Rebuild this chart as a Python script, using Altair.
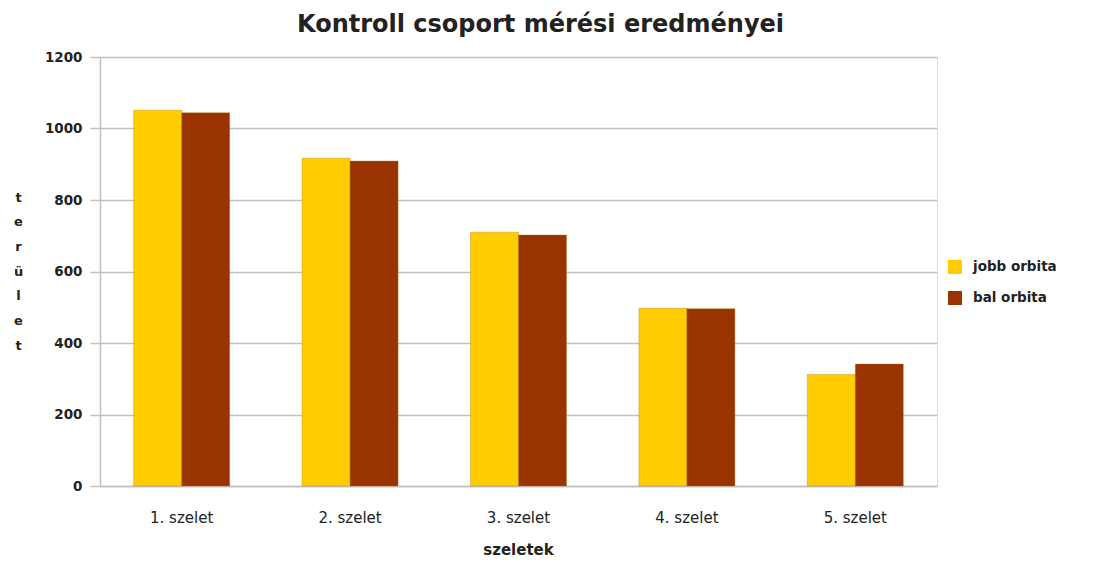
import altair as alt
import pandas as pd

categories = ["1. szelet", "2. szelet", "3. szelet", "4. szelet", "5. szelet"]
series_names = ["jobb orbita", "bal orbita"]
jobb_values = [1051, 917, 710, 497, 312]
bal_values = [1044, 909, 702, 496, 341]
y_ticks = [0, 200, 400, 600, 800, 1000, 1200]

rows = []
for c, j, b in zip(categories, jobb_values, bal_values):
    rows.append({"szelet": c, "sorozat": series_names[0], "ertek": j})
    rows.append({"szelet": c, "sorozat": series_names[1], "ertek": b})
df = pd.DataFrame(rows)

grid_color = "#c0c0c0"

chart = alt.Chart(df).mark_bar(stroke="#b07a00", strokeWidth=0.6, strokeOpacity=0.6).encode(
    x=alt.X(
        "szelet:N",
        sort=categories,
        scale=alt.Scale(paddingInner=0.43),
        axis=alt.Axis(
            title="szeletek",
            titleFont="DejaVu Sans",
            titleFontSize=15,
            titleFontWeight="bold",
            titleColor="#222222",
            titleX=418,
            titleY=63,
            titleBaseline="middle",
            titleAlign="center",
            labelAngle=0,
            labelFont="DejaVu Sans",
            labelFontSize=15,
            labelColor="#222222",
            labelPadding=24,
            ticks=False,
            domainColor=grid_color,
            domainWidth=1.5,
        ),
    ),
    xOffset=alt.XOffset("sorozat:N", sort=series_names),
    y=alt.Y(
        "ertek:Q",
        scale=alt.Scale(domain=[0, 1200], nice=False),
        axis=alt.Axis(
            values=y_ticks,
            format="d",
            title=["t", "e", "r", "ü", "l", "e", "t"],
            titleAngle=0,
            titleFont="DejaVu Sans",
            titleFontSize=13,
            titleFontWeight="bold",
            titleColor="#222222",
            titleLineHeight=24.7,
            titleX=-82,
            titleY=134,
            titleAlign="center",
            titleBaseline="top",
            labelFont="DejaVu Sans",
            labelFontSize=13.5,
            labelFontWeight="bold",
            labelColor="#222222",
            labelPadding=8,
            tickSize=10,
            tickColor=grid_color,
            tickWidth=1.5,
            gridColor=grid_color,
            gridWidth=1.5,
            domainColor=grid_color,
            domainWidth=1.5,
        ),
    ),
    color=alt.Color(
        "sorozat:N",
        sort=series_names,
        scale=alt.Scale(domain=series_names, range=["#FFCC00", "#993300"]),
        legend=alt.Legend(
            title=None,
            orient="none",
            legendX=848,
            legendY=203,
            symbolType="square",
            symbolSize=196,
            symbolStrokeWidth=0,
            labelFont="DejaVu Sans",
            labelFontSize=13.5,
            labelFontWeight="bold",
            labelColor="#222222",
            labelOffset=11,
            rowPadding=17,
            padding=0,
        ),
    ),
).properties(
    width=837,
    height=429,
    title=alt.TitleParams(
        "Kontroll csoport mérési eredményei",
        font="DejaVu Sans",
        fontSize=24,
        fontWeight="bold",
        color="#222222",
        anchor="middle",
        dx=22,
        offset=13,
    ),
    autosize=alt.AutoSizeParams(type="none"),
    padding={"left": 92, "top": 49, "right": 149, "bottom": 76},
).configure_view(
    stroke=grid_color, strokeWidth=1.5
).configure(background="white")

chart.save("out.html", embed_options={"renderer": "svg", "actions": False})
